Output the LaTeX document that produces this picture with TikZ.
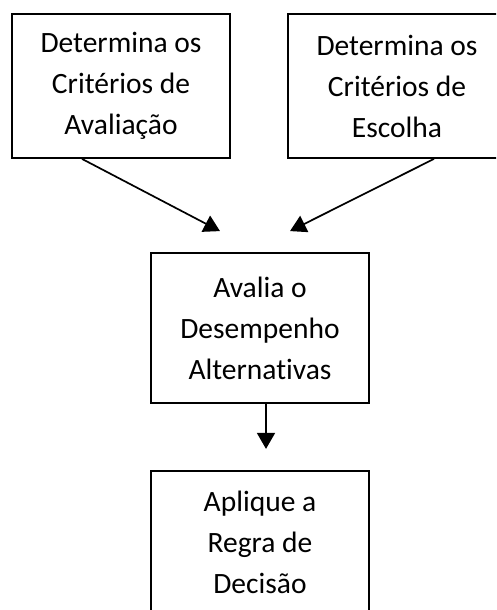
\documentclass[tikz,border=0pt]{standalone}
\usepackage{fontspec}
\setmainfont{Carlito}[Ligatures=NoCommon]
\usepackage{tikz}
\usetikzlibrary{arrows.meta, positioning}

\begin{document}
\begin{tikzpicture}[
    box/.style={draw=black, rectangle, minimum width=218pt, minimum height=144pt, inner sep=0pt, line width=1.8pt, align=center, font=\fontsize{29.5}{41}\selectfont},
    arrow/.style={-{Triangle[length=16pt,width=18pt]}, line width=1.7pt, black}
]
\clip (0,0) rectangle (496pt,-610pt);
\useasboundingbox (0,0) rectangle (496pt,-610pt);
\node[box] (avaliacao) at (121pt,-86pt) {Determina os\\Critérios de\\Avaliação};
\node[box] (escolha) at (397pt,-86pt) {Determina os\\Critérios de\\Escolha};
\node[box, minimum height=150pt] (desempenho) at (260pt,-328pt) {Avalia o\\Desempenho\\Alternativas};
\node[box, below=66pt of desempenho] (regra) {Aplique a\\Regra de\\Decisão};
\draw[arrow] ([xshift=-39pt]avaliacao.south) -- ([xshift=-40pt,yshift=21pt]desempenho.north);
\draw[arrow] ([xshift=37pt]escolha.south) -- ([xshift=30pt,yshift=21pt]desempenho.north);
\draw[arrow] ([xshift=6pt]desempenho.south) -- ([xshift=6pt,yshift=21pt]regra.north);
\end{tikzpicture}
\end{document}
